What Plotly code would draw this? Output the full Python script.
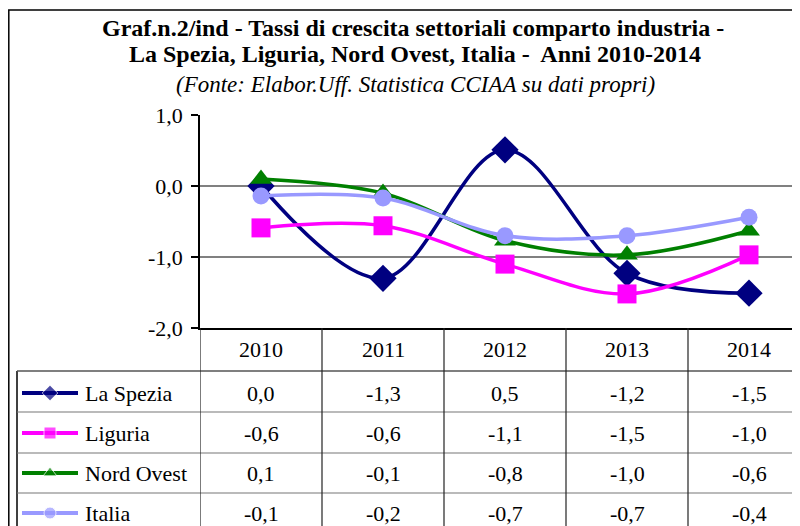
import plotly.graph_objects as go

# ---------------- data ----------------
years = ["2010", "2011", "2012", "2013", "2014"]
series_names = ["La Spezia", "Liguria", "Nord Ovest", "Italia"]
la_spezia = [0.0, -1.30, 0.51, -1.23, -1.51]
liguria = [-0.59, -0.56, -1.10, -1.52, -0.97]
nord_ovest = [0.10, -0.10, -0.77, -0.97, -0.63]
italia = [-0.14, -0.17, -0.70, -0.70, -0.44]
y_ticks = [1.0, 0.0, -1.0, -2.0]
y_tick_labels = ["1,0", "0,0", "-1,0", "-2,0"]

title_line1 = "Graf.n.2/ind - Tassi di crescita settoriali comparto industria -"
title_line2 = "La Spezia, Liguria, Nord Ovest, Italia -  Anni 2010-2014"
subtitle = "(Fonte: Elabor.Uff. Statistica CCIAA su dati propri)"

values = [la_spezia, liguria, nord_ovest, italia]
colors = ["#000080", "#FF00FF", "#008000", "#9999FF"]
symbols = ["diamond", "square", "triangle-up", "circle"]
msizes = [21, 19, 19, 17]

# ---------------- layout constants (screen pixels) ----------------
W, H = 800, 526
OFF = 8  # page body margin
PLOT_L, PLOT_T, PLOT_B = 200, 115, 328
COL_W = 122
FONT = "Liberation Serif"


def px(x):
    return (x - OFF) / W


def py(y):
    return 1 - (y - OFF) / H


x_idx = list(range(len(years)))
x_max = -0.5 + (W + OFF - PLOT_L) / COL_W

fig = go.Figure()
for name, vals, c, s, ms in zip(series_names, values, colors, symbols, msizes):
    fig.add_trace(go.Scatter(
        x=x_idx, y=vals, name=name, mode="lines+markers",
        line=dict(color=c, width=3.5, shape="spline", smoothing=1.0),
        marker=dict(symbol=s, size=ms, color=c),
        showlegend=False, cliponaxis=False,
    ))

# legend keys inside the table (full-page pixel axes)
row_centers = [393, 433, 473, 513]
for name, c, s, rc in zip(series_names, colors, symbols, row_centers):
    fig.add_trace(go.Scatter(
        x=[22 - OFF, 50 - OFF, 78 - OFF], y=[rc - OFF] * 3, mode="lines+markers",
        line=dict(color=c, width=4),
        marker=dict(symbol=s, size=[0, 12, 0], color=c),
        xaxis="x2", yaxis="y2", showlegend=False, hoverinfo="skip",
    ))

shapes = []
# outer border
shapes.append(dict(type="rect", xref="paper", yref="paper",
                   x0=px(8.8), x1=px(W + 20), y0=py(H + 20), y1=py(10),
                   line=dict(color="black", width=1.5)))
# table left border
shapes.append(dict(type="line", xref="paper", yref="paper",
                   x0=px(17), x1=px(17), y0=py(371), y1=py(H + 10),
                   line=dict(color="black", width=1.5)))
# table horizontal lines
shapes.append(dict(type="line", xref="paper", yref="paper",
                   x0=px(17), x1=px(W + 10), y0=py(371), y1=py(371),
                   line=dict(color="#555555", width=1.5)))
for yl in [412, 453, 493]:
    shapes.append(dict(type="line", xref="paper", yref="paper",
                       x0=px(17), x1=px(W + 10), y0=py(yl), y1=py(yl),
                       line=dict(color="#777777", width=1.2)))
# table vertical lines at category boundaries
for i in range(len(years) + 1):
    shapes.append(dict(type="line", xref="x", yref="paper",
                       x0=i - 0.5, x1=i - 0.5, y0=py(PLOT_B), y1=py(H + 10),
                       line=dict(color="#222222", width=1.2)))

annotations = []


def add_text(text, x, y, xref="paper", size=22, xanchor="center"):
    annotations.append(dict(text=text, x=x, y=y, xref=xref, yref="paper",
                            xanchor=xanchor, yanchor="middle", showarrow=False,
                            font=dict(family=FONT, size=size, color="black")))


# titles
add_text("<b>" + title_line1 + "</b>", px(413), py(28), size=24)
add_text("<b>" + title_line2 + "</b>", px(415), py(54), size=24)
add_text("<i>" + subtitle + "</i>", px(415), py(84), size=23)
# table header (years)
for i, yr in enumerate(years):
    add_text(yr, i, py(349), xref="x")


def fmt(v):
    s = f"{v:.1f}".replace(".", ",")
    return "0,0" if s == "-0,0" else s


for name, vals, rc in zip(series_names, values, row_centers):
    add_text(name, px(83), py(rc), xanchor="left")
    for i, v in enumerate(vals):
        add_text(fmt(v), i, py(rc), xref="x")

fig.update_layout(
    width=W, height=H,
    margin=dict(l=0, r=0, t=0, b=0, pad=0, autoexpand=False),
    paper_bgcolor="white", plot_bgcolor="rgba(0,0,0,0)",
    xaxis=dict(domain=[px(PLOT_L), 1], range=[-0.5, x_max],
               showgrid=False, zeroline=False, showticklabels=False,
               showline=True, linecolor="black", linewidth=1.5,
               ticks="", fixedrange=True, automargin=False),
    yaxis=dict(domain=[py(PLOT_B), py(PLOT_T)], range=[-2, 1],
               tickvals=y_ticks, ticktext=y_tick_labels,
               showgrid=True, gridcolor="#808080", gridwidth=1.5,
               zeroline=False, showline=True, linecolor="black", linewidth=1.5,
               ticks="outside", ticklen=7, tickcolor="black", tickwidth=1.5,
               ticklabelstandoff=4,
               tickfont=dict(family=FONT, size=22, color="black"),
               fixedrange=True, automargin=False),
    xaxis2=dict(domain=[0, 1], range=[0, W], visible=False, anchor="y2",
                fixedrange=True, automargin=False),
    yaxis2=dict(domain=[0, 1], range=[H, 0], visible=False, anchor="x2",
                fixedrange=True, automargin=False),
    shapes=shapes,
    annotations=annotations,
)

fig.write_html("out.html")
